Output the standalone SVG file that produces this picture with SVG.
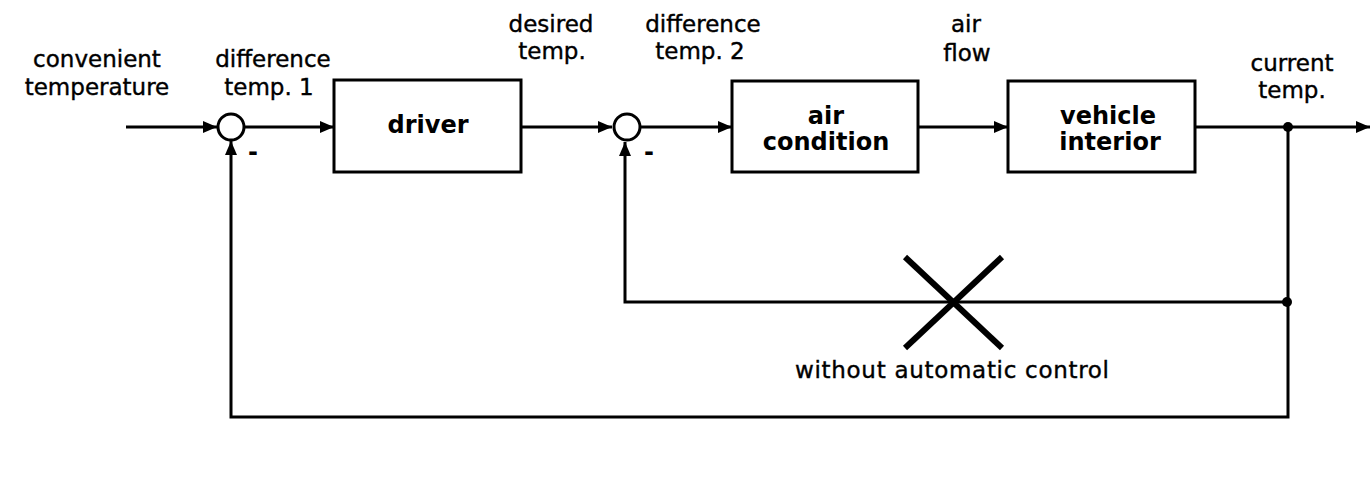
<svg xmlns="http://www.w3.org/2000/svg" width="1370" height="481" viewBox="0 0 1370 481">
<style>
.box{fill:#fff;stroke:#000;stroke-width:3}
.lbl{font-family:"DejaVu Sans","Verdana",sans-serif;font-size:23px;fill:#000;stroke:#000;stroke-width:0.4;text-anchor:middle}
.bold{font-family:"DejaVu Sans","Verdana",sans-serif;font-size:24px;font-weight:bold;fill:#000;text-anchor:middle}
.sum{fill:#fff;stroke:#000;stroke-width:3}
.wire{fill:none;stroke:#000;stroke-width:3}
.minus{font-family:"DejaVu Sans",sans-serif;font-size:24px;font-weight:bold;fill:#000}
</style>
<defs>
<marker id="arr" markerUnits="userSpaceOnUse" markerWidth="14" markerHeight="12" refX="14" refY="6" orient="auto">
<path d="M0,0 L14,6 L0,12 z" fill="#000"/>
</marker>
</defs>
<rect width="1370" height="481" fill="#fff"/>

<g id="connectors">
<line class="wire" x1="126" y1="127" x2="217" y2="127" marker-end="url(#arr)"/>
<line class="wire" x1="245" y1="127" x2="334" y2="127" marker-end="url(#arr)"/>
<line class="wire" x1="521" y1="127" x2="612" y2="127" marker-end="url(#arr)"/>
<line class="wire" x1="641" y1="127" x2="732" y2="127" marker-end="url(#arr)"/>
<line class="wire" x1="918" y1="127" x2="1008" y2="127" marker-end="url(#arr)"/>
<line class="wire" x1="1195" y1="127" x2="1370" y2="127" marker-end="url(#arr)"/>
<polyline class="wire" points="1288,127 1288,302 625,302 625,142" marker-end="url(#arr)"/>
<polyline class="wire" points="1288,302 1288,417 231,417 231,141" marker-end="url(#arr)"/>
<circle cx="1288" cy="127" r="5" fill="#000"/>
<circle cx="1287" cy="302" r="5" fill="#000"/>
</g>

<g id="sum1">
<circle class="sum" cx="231" cy="127" r="13"/>
<text class="minus" x="248" y="160">-</text>
</g>
<g id="sum2">
<circle class="sum" cx="627" cy="127" r="13"/>
<text class="minus" x="644" y="160">-</text>
</g>

<g id="driver">
<rect class="box" x="334" y="80" width="187" height="92"/>
<text class="bold" x="428" y="133">driver</text>
</g>
<g id="air-condition">
<rect class="box" x="732" y="81" width="186" height="91"/>
<text class="bold" x="826" y="124">air</text>
<text class="bold" x="826" y="150">condition</text>
</g>
<g id="vehicle-interior">
<rect class="box" x="1008" y="81" width="187" height="91"/>
<text class="bold" x="1108" y="124">vehicle</text>
<text class="bold" x="1110" y="150">interior</text>
</g>

<g id="labels">
<text class="lbl" x="97" y="67">convenient</text>
<text class="lbl" x="97" y="95">temperature</text>
<text class="lbl" x="273" y="67">difference</text>
<text class="lbl" x="269" y="95">temp. 1</text>
<text class="lbl" x="551" y="32">desired</text>
<text class="lbl" x="552" y="59">temp.</text>
<text class="lbl" x="703" y="32">difference</text>
<text class="lbl" x="700" y="59">temp. 2</text>
<text class="lbl" x="966" y="32">air</text>
<text class="lbl" x="967" y="61">flow</text>
<text class="lbl" x="1292" y="71">current</text>
<text class="lbl" x="1292" y="98">temp.</text>
</g>

<g id="no-auto-control">
<line x1="905" y1="257" x2="1002" y2="348" stroke="#000" stroke-width="6"/>
<line x1="1002" y1="257" x2="905" y2="348" stroke="#000" stroke-width="6"/>
<text class="lbl" x="952" y="378" textLength="314" lengthAdjust="spacing">without automatic control</text>
</g>
</svg>
